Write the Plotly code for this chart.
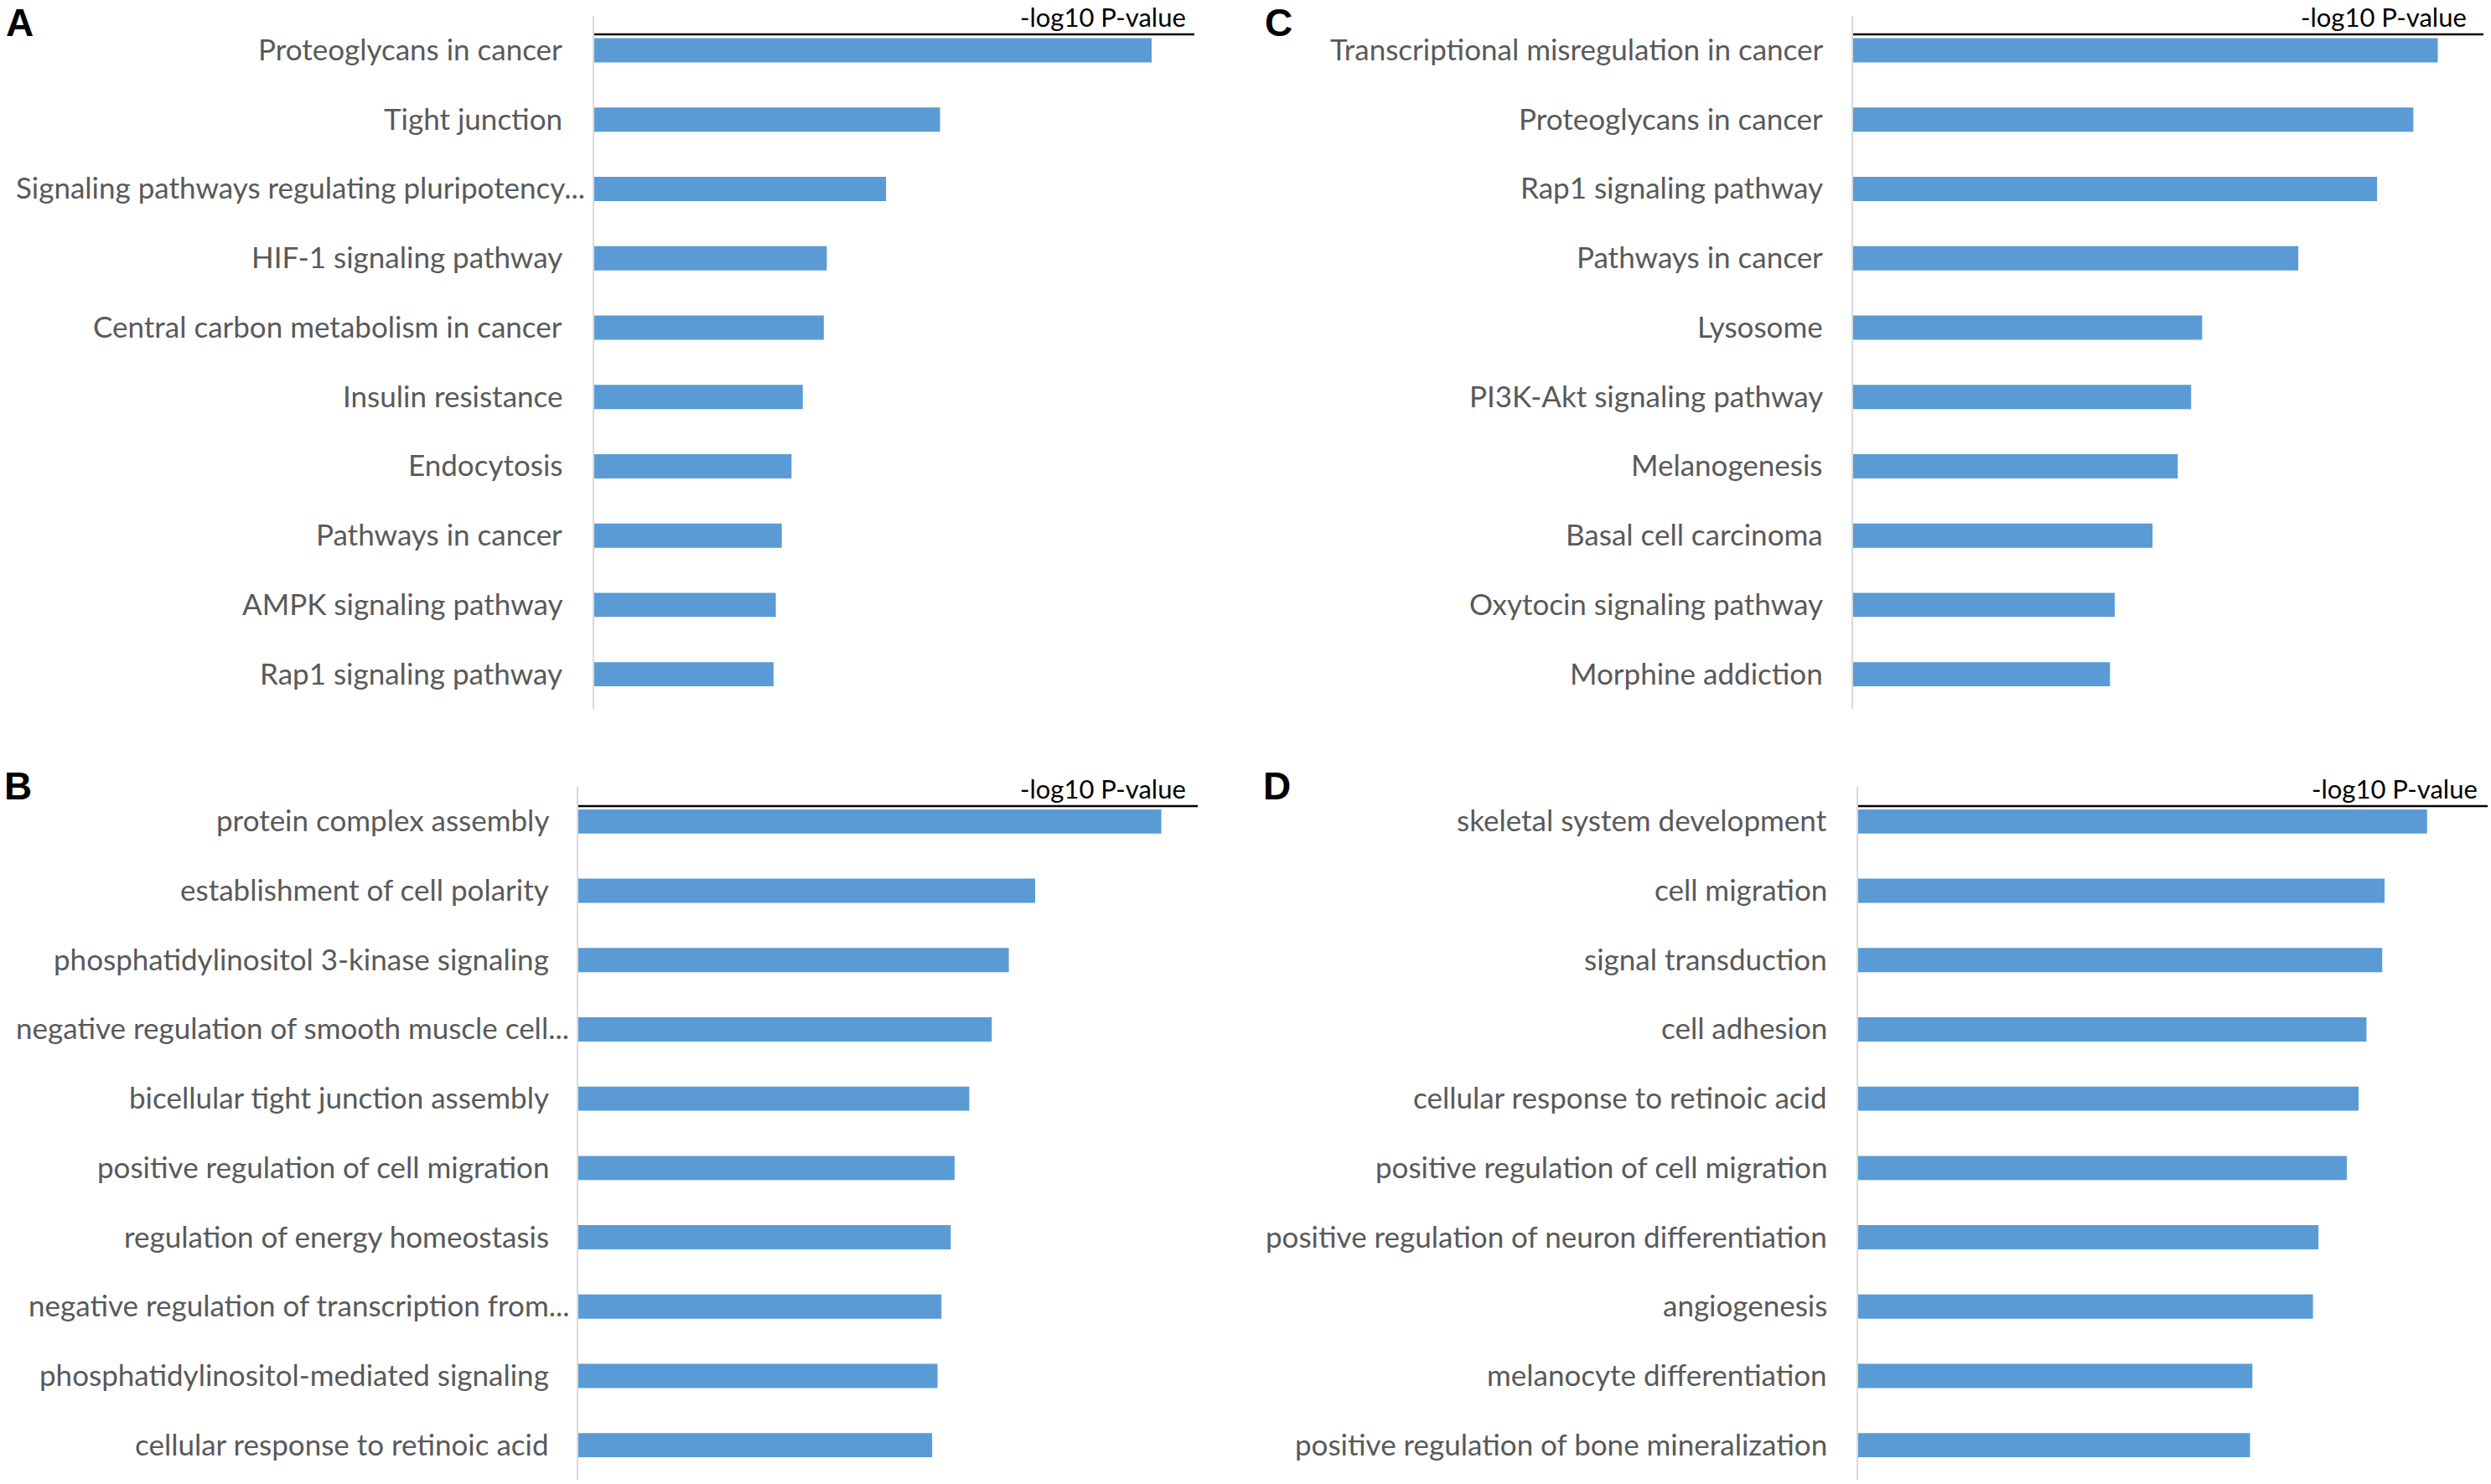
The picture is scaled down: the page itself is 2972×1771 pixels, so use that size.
import plotly.graph_objects as go

W, H = 2972, 1771

# ---------------- data ----------------
a_terms = ["Proteoglycans in cancer", "Tight junction",
           "Signaling pathways regulating pluripotency...", "HIF-1 signaling pathway",
           "Central carbon metabolism in cancer", "Insulin resistance", "Endocytosis",
           "Pathways in cancer", "AMPK signaling pathway", "Rap1 signaling pathway"]
a_values = [7.43, 4.61, 3.89, 3.10, 3.06, 2.78, 2.63, 2.50, 2.42, 2.39]

b_terms = ["protein complex assembly", "establishment of cell polarity",
           "phosphatidylinositol 3-kinase signaling", "negative regulation of smooth muscle cell...",
           "bicellular tight junction assembly", "positive regulation of cell migration",
           "regulation of energy homeostasis", "negative regulation of transcription from...",
           "phosphatidylinositol-mediated signaling", "cellular response to retinoic acid"]
b_values = [7.53, 5.90, 5.56, 5.34, 5.05, 4.86, 4.81, 4.69, 4.64, 4.57]

c_terms = ["Transcriptional misregulation in cancer", "Proteoglycans in cancer",
           "Rap1 signaling pathway", "Pathways in cancer", "Lysosome",
           "PI3K-Akt signaling pathway", "Melanogenesis", "Basal cell carcinoma",
           "Oxytocin signaling pathway", "Morphine addiction"]
c_values = [7.42, 7.11, 6.65, 5.65, 4.43, 4.29, 4.12, 3.80, 3.32, 3.26]

d_terms = ["skeletal system development", "cell migration", "signal transduction",
           "cell adhesion", "cellular response to retinoic acid",
           "positive regulation of cell migration", "positive regulation of neuron differentiation",
           "angiogenesis", "melanocyte differentiation", "positive regulation of bone mineralization"]
d_values = [7.23, 6.69, 6.66, 6.46, 6.36, 6.21, 5.85, 5.78, 5.01, 4.98]

panel_letters = ["A", "B", "C", "D"]
axis_title = "-log10 P-value"
x_max = 8

# ---------------- layout geometry (pixels) ----------------
def px_x(v):
    return v / W

def px_y(v):
    return 1 - v / H

# (x_left, x_right, y_top, y_bottom, top_line_y, letter_x, letter_y, title_right, title_y, label_gap)
geo = [
    (709, 1425, 18.6, 846, 41, 5, 27, 1417, 20, 37),      # A
    (690, 1429, 939, 1766, 962, 3, 938, 1417, 941, 34),   # B
    (2211, 2963, 18.6, 846, 41, 1507, 27, 2945, 20, 35),  # C
    (2217, 2968, 939, 1766, 962, 1505, 938, 2958, 941, 36),  # D
]
TRUNC_GAP = 10

datasets = [(a_terms, a_values), (b_terms, b_values), (c_terms, c_values), (d_terms, d_values)]

LABEL_FONT = dict(family="Lato", size=35, color="#595959")
TITLE_FONT = dict(family="Lato", size=31, color="#000000")
LETTER_FONT = dict(family="Liberation Sans", size=46, color="#000000")
BAR_COLOR = "#5B9BD5"

fig = go.Figure()
layout = dict(
    width=W, height=H, margin=dict(l=0, r=0, t=0, b=0, autoexpand=False),
    paper_bgcolor="white", plot_bgcolor="white",
    showlegend=False, bargap=0.65,
    shapes=[], annotations=[],
)

for i, ((terms, values), g) in enumerate(zip(datasets, geo)):
    n = "" if i == 0 else str(i + 1)
    xl, xr, yt, yb, ly, lx, lyy, tr, ty, gap = g
    fig.add_trace(go.Bar(
        x=values, y=terms, orientation="h",
        marker=dict(color=BAR_COLOR, line=dict(width=0)),
        xaxis="x" + n, yaxis="y" + n, hoverinfo="x+y",
    ))
    layout["xaxis" + n] = dict(
        domain=[px_x(xl), px_x(xr)], range=[0, x_max], anchor="y" + n,
        showgrid=False, zeroline=False, showline=False, showticklabels=False, ticks="",
        automargin=False,
    )
    layout["yaxis" + n] = dict(
        domain=[px_y(yb), px_y(yt)], anchor="x" + n, type="category",
        categoryorder="array", categoryarray=terms, autorange="reversed",
        showgrid=False, zeroline=False, showline=True, linecolor="#D9D9D9", linewidth=2,
        ticks="", showticklabels=False, automargin=False,
    )
    # category labels (right-aligned beside the axis)
    for t in terms:
        shift = TRUNC_GAP if t.endswith("...") else gap
        layout["annotations"].append(dict(
            text=t, xref="x" + n + " domain", yref="y" + n,
            x=0, y=t, xanchor="right", yanchor="middle", xshift=-shift, yshift=2,
            showarrow=False, font=LABEL_FONT, borderpad=0,
        ))
    layout["shapes"].append(dict(
        type="line", xref="x" + n + " domain", yref="paper",
        x0=0, x1=1, y0=px_y(ly), y1=px_y(ly),
        line=dict(color="black", width=2.5),
    ))
    layout["annotations"].append(dict(
        text=axis_title, xref="paper", yref="paper",
        x=px_x(tr), y=px_y(ty), xanchor="right", yanchor="middle",
        showarrow=False, font=TITLE_FONT,
    ))
    layout["annotations"].append(dict(
        text="<b>" + panel_letters[i] + "</b>", xref="paper", yref="paper",
        x=px_x(lx), y=px_y(lyy), xanchor="left", yanchor="middle",
        showarrow=False, font=LETTER_FONT,
    ))

fig.update_layout(**layout)

fig.write_html("out.html", include_plotlyjs=True, config={"displayModeBar": False},
               post_script="document.body.style.margin='0';document.body.style.overflow='hidden';")
